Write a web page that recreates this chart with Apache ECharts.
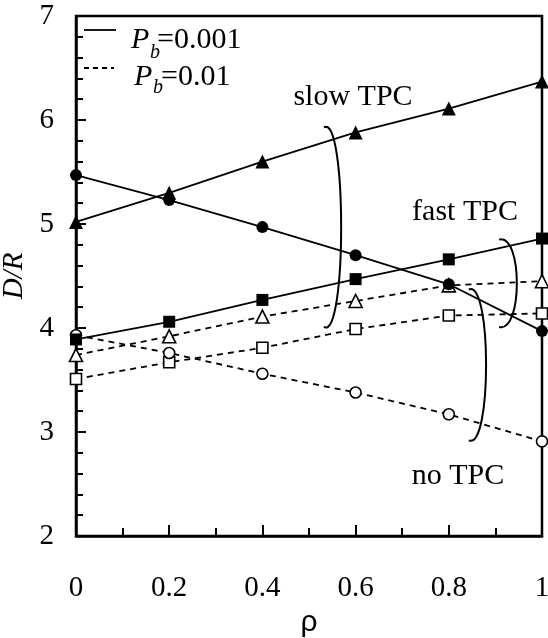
<!DOCTYPE html>
<html>
<head>
<meta charset="utf-8">
<script src="https://cdn.jsdelivr.net/npm/echarts@6/dist/echarts.min.js"></script>
<style>
html,body{margin:0;padding:0;background:#fff;}
#chart{width:548px;height:638px;}
</style>
</head>
<body>
<div id="chart"></div>
<script>
// ---- data ----
const rho = [0, 0.2, 0.4, 0.6, 0.8, 1];
// P_b = 0.001 (solid lines, filled markers)
const slowTPC_001 = [5.02, 5.30, 5.60, 5.88, 6.11, 6.37];
const noTPC_001   = [5.47, 5.23, 4.97, 4.70, 4.42, 3.97];
const fastTPC_001 = [3.89, 4.06, 4.27, 4.47, 4.66, 4.86];
// P_b = 0.01 (dashed lines, open markers)
const slowTPC_01  = [3.74, 3.92, 4.11, 4.26, 4.41, 4.45];
const fastTPC_01  = [3.51, 3.67, 3.81, 3.99, 4.12, 4.14];
const noTPC_01    = [3.93, 3.76, 3.56, 3.38, 3.17, 2.91];
const xTicks = [0, 0.2, 0.4, 0.6, 0.8, 1];
const yTicks = [2, 3, 4, 5, 6, 7];
// annotation brackets: [xEnd, xPeak, yTop, yBottom] in data units
const brackets = [
  [0.532, 0.569, 5.93, 4.01],
  [0.908, 0.946, 4.85, 4.01],
  [0.843, 0.880, 4.37, 2.92]
];

const chart = echarts.init(document.getElementById('chart'));
const serif = 'Liberation Serif, Times New Roman, serif';
const pts = arr => rho.map((x, i) => [x, arr[i]]);

function mk(name, data, symbol, size, filled, dashed) {
  return {
    name: name, type: 'line', data: pts(data),
    symbol: symbol, symbolSize: size, showSymbol: true,
    lineStyle: { color: '#000', width: 1.8, type: dashed ? [6, 5] : 'solid' },
    itemStyle: { color: filled ? '#000' : '#fff', borderColor: '#000', borderWidth: filled ? 0 : 1.6 },
    z: filled ? 5 : 3,
    animation: false
  };
}

chart.setOption({
  animation: false,
  grid: { left: 76, right: 6, top: 16, bottom: 102, outerBoundsMode: 'none', containLabel: false,
          show: true, borderColor: '#000', borderWidth: 2.5, backgroundColor: 'transparent' },
  xAxis: {
    type: 'value', min: xTicks[0], max: xTicks[xTicks.length - 1], interval: 0.2,
    name: 'ρ', nameLocation: 'middle', nameGap: 70,
    nameTextStyle: { fontFamily: 'Liberation Sans, Arial, sans-serif', fontSize: 30, color: '#000' },
    axisLine: { lineStyle: { color: '#000', width: 2.5 } },
    axisTick: { inside: true, length: 11, lineStyle: { color: '#000', width: 2 } },
    minorTick: { show: true, splitNumber: 2, length: 8, lineStyle: { color: '#000', width: 2 } },
    splitLine: { show: false },
    axisLabel: { fontFamily: serif, fontSize: 29, color: '#000', margin: 38 }
  },
  yAxis: {
    type: 'value', min: yTicks[0], max: yTicks[yTicks.length - 1], interval: 1,
    name: 'D/R', nameLocation: 'middle', nameGap: 43, nameRotate: 90,
    nameTextStyle: { fontFamily: serif, fontStyle: 'italic', fontSize: 29, color: '#000' },
    axisLine: { lineStyle: { color: '#000', width: 2.5 } },
    axisTick: { inside: true, length: 10, lineStyle: { color: '#000', width: 2 } },
    minorTick: { show: true, splitNumber: 5, length: 7, lineStyle: { color: '#000', width: 2 } },
    splitLine: { show: false },
    axisLabel: { fontFamily: serif, fontSize: 29, color: '#000', margin: 22 }
  },
  series: [
    mk('slow TPC, Pb=0.01', slowTPC_01, 'triangle', 13, false, true),
    mk('fast TPC, Pb=0.01', fastTPC_01, 'rect', 11, false, true),
    mk('no TPC, Pb=0.01', noTPC_01, 'circle', 11, false, true),
    mk('fast TPC, Pb=0.001', fastTPC_001, 'rect', 12, true, false),
    mk('no TPC, Pb=0.001', noTPC_001, 'circle', 12, true, false),
    mk('slow TPC, Pb=0.001', slowTPC_001, 'triangle', 14, true, false)
  ]
});

// annotations
const g = [];
brackets.forEach(b => {
  const pe = chart.convertToPixel({ gridIndex: 0 }, [b[0], b[2]]);
  const pb = chart.convertToPixel({ gridIndex: 0 }, [b[0], b[3]]);
  const pk = chart.convertToPixel({ gridIndex: 0 }, [b[1], b[2]]);
  const xl = pe[0], xr = pk[0], yt = pe[1], yb = pb[1];
  const X = (4 * xr - xl) / 3;
  const d = (yb - yt) * 0.07;
  g.push({
    type: 'bezierCurve', silent: true, z: 10,
    shape: { x1: xl, y1: yt, cpx1: X, cpy1: yt - d, cpx2: X, cpy2: yb + d, x2: xl, y2: yb },
    style: { stroke: '#000', lineWidth: 2, fill: null }
  });
});
const txt = (t, x, y, size, italic, align) => ({
  type: 'text', silent: true, z: 10, x: x, y: y,
  style: { text: t, font: (italic ? 'italic ' : '') + size + 'px ' + serif, fill: '#000', align: align || 'left', verticalAlign: 'middle' }
});
g.push(txt('slow TPC', 353, 97, 30, false, 'center'));
g.push(txt('fast TPC', 465, 212, 30, false, 'center'));
g.push(txt('no TPC', 458, 476, 30, false, 'center'));
// legend
g.push({ type: 'line', silent: true, shape: { x1: 84, y1: 30, x2: 116, y2: 30 }, style: { stroke: '#000', lineWidth: 1.8 } });
g.push({ type: 'line', silent: true, shape: { x1: 84, y1: 68, x2: 114, y2: 68 }, style: { stroke: '#000', lineWidth: 1.8, lineDash: [5, 4] } });
g.push(txt('P', 131, 40, 30, true));
g.push(txt('b', 150, 53, 20, true));
g.push(txt('=0.001', 157, 40, 30, false));
g.push(txt('P', 134, 77, 30, true));
g.push(txt('b', 153, 88, 20, true));
g.push(txt('=0.01', 161, 77, 30, false));
chart.setOption({ graphic: g });
</script>
</body>
</html>
